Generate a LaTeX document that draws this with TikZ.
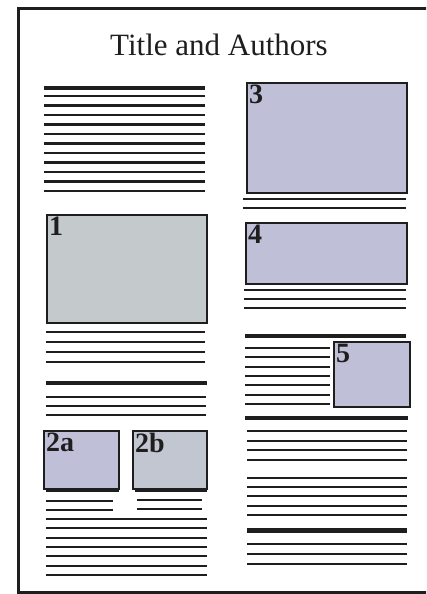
\documentclass[tikz,border=0pt]{standalone}
\usepackage{fontspec}
\setmainfont{Liberation Serif}
\usepackage{xcolor}
\definecolor{figL}{HTML}{BFC0D8}
\definecolor{figG}{HTML}{C4CACC}
\definecolor{ink}{HTML}{1E1E1E}

\begin{document}
\begin{tikzpicture}[
  x=1pt, y=-1pt,
  txt/.style    ={draw=ink, line width=2.2pt},
  rule/.style   ={draw=ink, line width=4.2pt},
  figbox/.style ={draw=ink, line width=2.3pt, fill=figL},
  shadow/.style ={draw=ink, line width=3.4pt},
  numlbl/.style ={anchor=north west, inner sep=2pt, text=ink,
                  font=\bfseries\fontsize{28}{28}\selectfont},
]

% ---- page ------------------------------------------------------------------
\useasboundingbox (0,0) rectangle (426,594);
\clip (0,0) rectangle (426,594);
\draw[ink, line width=3pt] (18,9) rectangle (470,592);

\node[anchor=base, text=ink, font=\fontsize{31}{36}\selectfont] (title)
  at (219,56) {Title and Authors};

% ---- left column -----------------------------------------------------------
\draw[rule] (44,88) -- (205,88);
\foreach \y in {96,105.5,...,192} \draw[txt] (44,\y) -- (205,\y);

\draw[figbox, fill=figG] (47,215) rectangle (207,323);
\node[numlbl] (n1) at (47,215) {1};
\foreach \y in {332,342,352,362} \draw[txt] (46,\y) -- (205,\y);

\draw[rule] (46,383) -- (207,383);
\foreach \y in {397,406,415} \draw[txt] (46,\y) -- (206,\y);

% figures 2a and 2b side by side
\draw[figbox] (44,431) rectangle (119,489);
\draw[shadow] (46,490.5) -- (119,490.5);
\node[numlbl] (n2a) at (44,431) {2a};
\draw[figbox, fill=figG!60!figL] (133,431) rectangle (207,489);
\draw[shadow] (135,490.5) -- (207,490.5);
\node[numlbl] (n2b) at (133,431) {2b};

\foreach \y in {501,510} {
  \draw[txt] (46,\y) -- (113,\y);
  \draw[txt] (137,\y-1) -- (202,\y-1);
}
\foreach \y in {519,528,538,547,556,566,575} \draw[txt] (46,\y) -- (207,\y);

% ---- right column ----------------------------------------------------------
\draw[figbox] (247,83) rectangle (407,193);
\node[numlbl] (n3) at (247,83) {3};
\foreach \y in {199,208} \draw[txt] (243,\y) -- (406,\y);

\draw[figbox] (246,223) rectangle (407,284);
\node[numlbl] (n4) at (246,223) {4};
\foreach \y in {290,299,308} \draw[txt] (244,\y) -- (406,\y);

% figure 5 wrapped by text
\draw[rule] (245,336) -- (406,336);
\foreach \y in {348,357,367,376,385,395,404} \draw[txt] (245,\y) -- (330,\y);
\draw[figbox] (334,342) rectangle (410,407);
\node[numlbl] (n5) at (334,342) {5};

\draw[rule] (245,418) -- (408,418);
\foreach \y in {431,441,450,460,478,487,496,506,515,544,554,564}
  \draw[txt] (247,\y) -- (407,\y);
\draw[rule, line width=5pt] (247,530) -- (407,530);

\end{tikzpicture}
\end{document}
